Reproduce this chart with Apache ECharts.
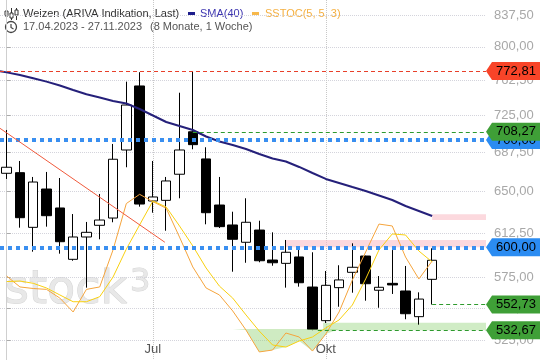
<!DOCTYPE html>
<html><head><meta charset="utf-8">
<script src="https://cdn.jsdelivr.net/npm/echarts@6/dist/echarts.min.js"></script>
<style>html,body{margin:0;padding:0;background:#fff}#c{width:540px;height:360px}</style>
</head><body><div id="c"></div>
<script>
// ---- data (weekly candles, Weizen) ----
const weeks = ['17.04.2023','24.04.2023','01.05.2023','08.05.2023','15.05.2023','22.05.2023','29.05.2023','05.06.2023','12.06.2023','19.06.2023','26.06.2023','03.07.2023','10.07.2023','17.07.2023','24.07.2023','31.07.2023','07.08.2023','14.08.2023','21.08.2023','28.08.2023','04.09.2023','11.09.2023','18.09.2023','25.09.2023','02.10.2023','09.10.2023','16.10.2023','23.10.2023','30.10.2023','06.11.2023','13.11.2023','20.11.2023','27.11.2023'];
const opens  = [667.3,667.9,617.5,652.4,634.9,589.8,609.0,619.3,625.8,690.0,756.4,641.3,641.9,666.4,708.27,681.2,637.6,619.6,604.4,615.1,589.2,586.4,591.8,566.8,540.1,566.3,578.9,592.6,564.2,569.8,563.6,543.2,573.1];
const closes = [673.1,626.1,659.0,627.9,604.9,609.0,613.1,624.0,680.9,736.0,638.5,645.0,660.0,690.0,695.3,630.6,618.1,607.0,622.0,588.6,586.9,595.8,570.3,533.4,568.2,572.6,583.1,569.5,566.6,568.5,545.5,557.1,589.0];
const lows   = [661.9,617.2,596.3,618.1,594.6,588.6,566.3,607.0,622.0,673.1,636.1,630.6,614.5,643.8,690.7,620.2,616.9,579.4,586.9,587.3,584.4,566.3,567.1,532.67,538.3,551.0,562.2,555.8,550.2,561.2,541.2,537.0,552.73];
const highs  = [710.1,679.2,663.8,668.6,662.8,629.4,622.3,647.8,696.0,761.1,771.5,679.2,663.8,749.1,772.81,692.7,663.8,631.5,643.8,623.4,613.1,606.4,599.2,595.8,580.0,584.8,603.5,592.9,575.8,597.7,584.2,562.5,599.2];
const sma40  = [771.3,768.4,764.8,761.1,756.9,752.0,747.4,744.0,740.3,737.6,731.8,725.0,718.3,714.2,710.1,703.5,698.5,695.0,691.0,686.0,681.6,678.7,673.4,667.6,661.9,658.1,654.3,650.6,646.4,642.2,636.7,632.2,627.6];
const stochK = [50.5,44.2,43.3,42.8,37.8,29.8,42.8,44.2,65.5,92.2,97.5,93.3,89.5,72.9,55.7,43.6,39.6,30.4,19.4,6.8,7.9,17.7,15.4,7.3,17.1,29.8,48.2,64.3,80.4,79.3,61.4,48.8,59.1];
const stochD = [47.3,47.6,46.3,43.6,39.6,35.7,35.7,38.6,49.9,66.0,79.9,93.7,90.2,79.3,67.8,55.1,44.7,37.8,28.1,18.8,10.8,9.6,13.1,15.4,20.6,25.2,33.8,48.8,65.5,74.7,74.1,64.9,58.6];
const oversold = 20;
const xTickWeeks  = [11, 24];
const xTickLabels = ['Jul', 'Okt'];
const yTickValues = [837.5, 800, 762.5, 725, 687.5, 650, 612.5, 575, 550, 525];
const resistance1 = 772.81, level708 = 708.27, blue700 = 700, blue600 = 600, support552 = 552.73, support532 = 532.67;
const trendStart = [-0.5, 711.8], trendEnd = [11.9, 604.4];
const smaLead = 772.5; // SMA value at the left edge of the window

// ---- helpers ----
const ln = Math.log;
const fmt = v => v.toFixed(2).replace('.', ',');
const X_MIN = -0.5, X_MAX = 36.05;

const candleData = weeks.map((w, i) => [i, ln(opens[i]), ln(closes[i]), ln(lows[i]), ln(highs[i])]);
const smaData = [[X_MIN, ln(smaLead)]].concat(sma40.map((v, i) => [i, ln(v)]));
const kData = stochK.map((v, i) => [i, v]);
const dData = stochD.map((v, i) => [i, v]);
const lowerData = stochK.map((k, i) => [i, Math.min(k, stochD[i], oversold)]);

const hLine = (v, x0, x1, color, type, width) => [
  { coord: [x0, ln(v)], lineStyle: { color, type, width } },
  { coord: [x1, ln(v)] }
];
const tag = (v, color) => ({ coord: [X_MAX, ln(v)], value: fmt(v), itemStyle: { color } });
const tagStyle = {
  silent: true,
  symbol: 'path://M0,9L6,0L54,0L54,18L6,18Z', symbolSize: [54, 18], symbolOffset: [27, 0], symbolKeepAspect: false,
  label: { show: true, position: 'inside', formatter: '{c}', color: '#000', fontSize: 13, offset: [3, 0] }
};

const chart = echarts.init(document.getElementById('c'));
chart.setOption({
  animation: false,
  grid: { left: 0, right: 54, top: 0, bottom: 0 },
  xAxis: {
    type: 'value', min: X_MIN, max: X_MAX,
    axisLine: { show: false },
    axisTick: { show: false, customValues: xTickWeeks },
    axisLabel: {
      customValues: xTickWeeks, inside: true, margin: 4, color: '#555', fontSize: 13,
      formatter: v => xTickLabels[xTickWeeks.indexOf(v)] || ''
    },
    splitLine: { show: true, lineStyle: { type: 'dotted', color: '#c8c8c8' } }
  },
  yAxis: [{
    type: 'value', position: 'right', min: ln(510.45), max: ln(855.72),
    axisLine: { show: true, lineStyle: { color: '#cfcfcf' } },
    axisTick: { show: true, length: 4, customValues: yTickValues.map(ln), lineStyle: { color: '#aaa' } },
    axisLabel: { customValues: yTickValues.map(ln), color: '#a8a8a8', fontSize: 13, margin: 8,
      formatter: v => fmt(Math.exp(v)) },
    splitLine: { show: true, lineStyle: { type: 'dotted', color: '#d4d4dc' } }
  }, {
    type: 'value', min: 2.158, max: 209.35, show: false, splitLine: { show: false }
  }],
  series: [{
    type: 'candlestick', name: 'Weizen', data: candleData, encode: { x: 0, y: [1, 2, 3, 4] },
    barWidth: 10, clip: false,
    itemStyle: { color: '#fff', color0: '#000', borderColor: '#000', borderColor0: '#000', borderWidth: 1 },
    markArea: {
      silent: true,
      data: [
        [{ coord: [32, ln(629.2)], itemStyle: { color: 'rgba(250,185,195,0.55)' } }, { coord: [X_MAX, ln(624.0)] }],
        [{ coord: [21, ln(606.4)], itemStyle: { color: 'rgba(250,185,195,0.55)' } }, { coord: [X_MAX, ln(600.0)] }],
        [{ coord: [23.8, ln(538.5)], itemStyle: { color: 'rgba(170,220,150,0.55)' } }, { coord: [X_MAX, ln(532.67)] }]
      ]
    },
    markLine: {
      silent: true, symbol: ['none', 'none'], label: { show: false },
      data: [
        hLine(resistance1, X_MIN, X_MAX, '#e8402a', [4, 3], 1),
        hLine(level708, 14, X_MAX, '#2e9a2e', [4, 3], 1),
        hLine(blue700, X_MIN, X_MAX, '#3a8ff0', [4, 4], 4),
        hLine(blue600, X_MIN, X_MAX, '#3a8ff0', [4, 4], 4),
        hLine(support552, 32, X_MAX, '#2e9a2e', [4, 3], 1),
        hLine(support532, 23.4, X_MAX, '#2e9a2e', [4, 3], 1),
        [{ coord: [trendStart[0], ln(trendStart[1])], lineStyle: { color: '#f05a3c', type: 'solid', width: 1 } },
         { coord: [trendEnd[0], ln(trendEnd[1])] }]
      ]
    },
    markPoint: Object.assign({}, tagStyle, {
      z: 5,
      data: [tag(resistance1, '#f84428'), tag(blue700, '#2b8cf2'),
             tag(blue600, '#2b8cf2'), tag(support552, '#3f9f37'), tag(support532, '#3f9f37')]
    })
  }, {
    type: 'line', name: 'SMA(40)', data: smaData, symbol: 'none', clip: false,
    lineStyle: { color: '#25207a', width: 2 }, z: 3,
    markPoint: Object.assign({}, tagStyle, { z: 8, data: [tag(level708, '#3f9f37')] })
  }, {
    type: 'line', yAxisIndex: 1, data: lowerData, symbol: 'none',
    lineStyle: { opacity: 0 }, areaStyle: { color: 'rgba(150,210,120,0.65)', origin: oversold }, z: 3
  }, {
    type: 'line', yAxisIndex: 1, name: 'K', data: kData, symbol: 'none',
    lineStyle: { color: '#f5a43c', width: 1 }, z: 4
  }, {
    type: 'line', yAxisIndex: 1, name: 'D', data: dData, symbol: 'none',
    lineStyle: { color: '#f8d010', width: 1 }, z: 4
  }],
  graphic: [
    { type: 'text', x: 5, y: 291, z: -10, style: { text: 'stock', font: '46px "DejaVu Sans"', fill: '#e8e8e8', stroke: '#d4d4d4', lineWidth: 1, verticalAlign: 'middle' } },
    { type: 'text', x: 130, y: 283, z: -10, style: { text: '3', font: '32px "DejaVu Sans"', fill: '#e8e8e8', stroke: '#d4d4d4', lineWidth: 1, verticalAlign: 'middle' } },
    { type: 'line', shape: { x1: 6.5, y1: 8, x2: 6.5, y2: 20 }, style: { stroke: '#333', lineWidth: 1 } },
    { type: 'rect', shape: { x: 5, y: 11, width: 3, height: 5 }, style: { fill: '#fff', stroke: '#333', lineWidth: 1 } },
    { type: 'line', shape: { x1: 11.5, y1: 8, x2: 11.5, y2: 20 }, style: { stroke: '#333', lineWidth: 1 } },
    { type: 'rect', shape: { x: 10, y: 13, width: 3, height: 5 }, style: { fill: '#fff', stroke: '#333', lineWidth: 1 } },
    { type: 'line', shape: { x1: 16.5, y1: 8, x2: 16.5, y2: 20 }, style: { stroke: '#333', lineWidth: 1 } },
    { type: 'rect', shape: { x: 15, y: 10, width: 3, height: 5 }, style: { fill: '#fff', stroke: '#333', lineWidth: 1 } },
    { type: 'text', x: 23, y: 14, style: { text: 'Weizen (ARIVA Indikation, Last)', font: '11px Arial', fill: '#333', verticalAlign: 'middle' } },
    { type: 'rect', shape: { x: 188, y: 12, width: 7, height: 3 }, style: { fill: '#1d1d8c' } },
    { type: 'text', x: 200, y: 14, style: { text: 'SMA(40)', font: '11px Arial', fill: '#3d35b0', verticalAlign: 'middle' } },
    { type: 'rect', shape: { x: 252, y: 12, width: 7, height: 3 }, style: { fill: '#f7b84b' } },
    { type: 'text', x: 265, y: 14, style: { text: 'SSTOC(5, 5, 3)', font: '11px Arial', fill: '#f5b041', verticalAlign: 'middle' } },
    { type: 'circle', shape: { cx: 11, cy: 27, r: 5.5 }, style: { fill: 'none', stroke: '#444', lineWidth: 1.3 } },
    { type: 'polyline', shape: { points: [[11, 24], [11, 27.5], [13.5, 29]] }, style: { fill: 'none', stroke: '#444', lineWidth: 1.2 } },
    { type: 'text', x: 23, y: 27, style: { text: weeks[0] + ' - ' + weeks[weeks.length - 1], font: '11px Arial', fill: '#555', verticalAlign: 'middle' } },
    { type: 'text', x: 150, y: 27, style: { text: '(8 Monate, 1 Woche)', font: '11px Arial', fill: '#555', verticalAlign: 'middle' } }
  ]
});
</script>
</body></html>
